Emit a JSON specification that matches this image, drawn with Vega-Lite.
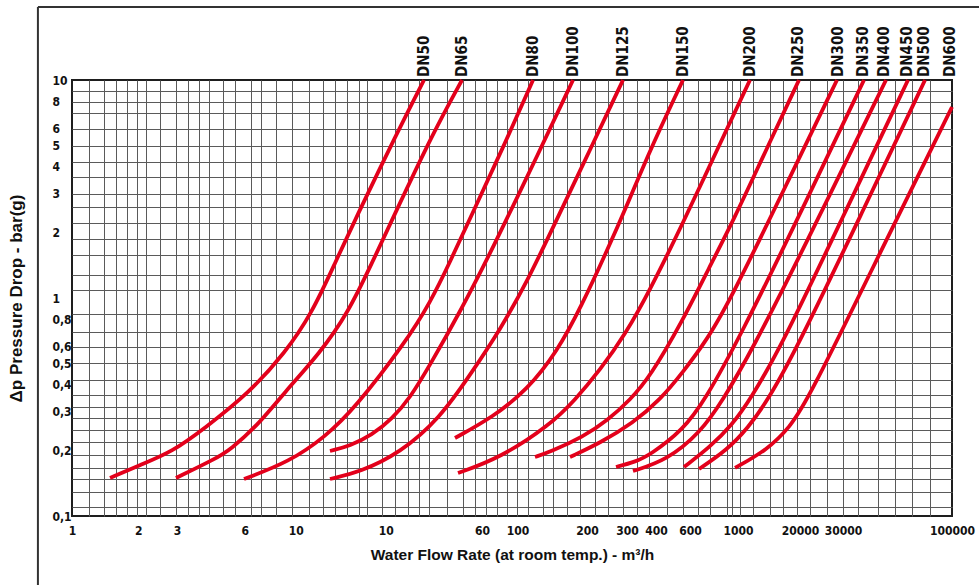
{
  "$schema": "https://vega.github.io/schema/vega-lite/v6.json",
  "width": 880,
  "height": 436,
  "autosize": {"type": "none"},
  "padding": {"left": 72, "top": 80, "right": 27, "bottom": 69},
  "background": "white",
  "config": {
    "view": {"stroke": "#1e1e1e", "strokeWidth": 2},
    "axis": {"labelColor": "#111", "titleColor": "#111"}
  },
  "datasets": {
    "curves": [
      {"dn": "DN50", "q": 1.489, "dp": 0.1494}, {"dn": "DN50", "q": 2.038, "dp": 0.1714}, {"dn": "DN50", "q": 2.848, "dp": 0.1966}, {"dn": "DN50", "q": 4.023, "dp": 0.2534}, {"dn": "DN50", "q": 6.375, "dp": 0.3666}, {"dn": "DN50", "q": 9.294, "dp": 0.5595}, {"dn": "DN50", "q": 12.33, "dp": 0.8537}, {"dn": "DN50", "q": 15.69, "dp": 1.447}, {"dn": "DN50", "q": 19.33, "dp": 2.279}, {"dn": "DN50", "q": 30.01, "dp": 5.713}, {"dn": "DN50", "q": 39.81, "dp": 10},
      {"dn": "DN65", "q": 2.97, "dp": 0.1494}, {"dn": "DN65", "q": 4.467, "dp": 0.1826}, {"dn": "DN65", "q": 5.227, "dp": 0.2008}, {"dn": "DN65", "q": 7.079, "dp": 0.2642}, {"dn": "DN65", "q": 9.196, "dp": 0.3666}, {"dn": "DN65", "q": 13.41, "dp": 0.5595}, {"dn": "DN65", "q": 17.97, "dp": 0.8537}, {"dn": "DN65", "q": 23.1, "dp": 1.447}, {"dn": "DN65", "q": 28.48, "dp": 2.279}, {"dn": "DN65", "q": 43.74, "dp": 5.713}, {"dn": "DN65", "q": 59.27, "dp": 10},
      {"dn": "DN80", "q": 6.051, "dp": 0.1478}, {"dn": "DN80", "q": 9.691, "dp": 0.1769}, {"dn": "DN80", "q": 14.13, "dp": 0.2303}, {"dn": "DN80", "q": 19.33, "dp": 0.3129}, {"dn": "DN80", "q": 32.63, "dp": 0.6218}, {"dn": "DN80", "q": 42.4, "dp": 0.9486}, {"dn": "DN80", "q": 52.26, "dp": 1.463}, {"dn": "DN80", "q": 66.48, "dp": 2.48}, {"dn": "DN80", "q": 90.06, "dp": 4.774}, {"dn": "DN80", "q": 124.6, "dp": 10},
      {"dn": "DN100", "q": 14.88, "dp": 0.1987}, {"dn": "DN100", "q": 18.34, "dp": 0.2095}, {"dn": "DN100", "q": 23.1, "dp": 0.2352}, {"dn": "DN100", "q": 28.48, "dp": 0.2786}, {"dn": "DN100", "q": 34.39, "dp": 0.3477}, {"dn": "DN100", "q": 42.4, "dp": 0.4928}, {"dn": "DN100", "q": 58.03, "dp": 0.8626}, {"dn": "DN100", "q": 81.11, "dp": 1.661}, {"dn": "DN100", "q": 134.1, "dp": 4.774}, {"dn": "DN100", "q": 189.4, "dp": 10},
      {"dn": "DN125", "q": 14.88, "dp": 0.1478}, {"dn": "DN125", "q": 20.38, "dp": 0.1592}, {"dn": "DN125", "q": 30.97, "dp": 0.1945}, {"dn": "DN125", "q": 47.07, "dp": 0.2815}, {"dn": "DN125", "q": 64.44, "dp": 0.4435}, {"dn": "DN125", "q": 88.2, "dp": 0.7133}, {"dn": "DN125", "q": 118.2, "dp": 1.209}, {"dn": "DN125", "q": 156.9, "dp": 2.208}, {"dn": "DN125", "q": 226.2, "dp": 4.774}, {"dn": "DN125", "q": 319.6, "dp": 10},
      {"dn": "DN150", "q": 55.07, "dp": 0.2279}, {"dn": "DN150", "q": 81.97, "dp": 0.2846}, {"dn": "DN150", "q": 117, "dp": 0.3784}, {"dn": "DN150", "q": 160.2, "dp": 0.5653}, {"dn": "DN150", "q": 208, "dp": 0.9288}, {"dn": "DN150", "q": 267.5, "dp": 1.609}, {"dn": "DN150", "q": 336.8, "dp": 2.728}, {"dn": "DN150", "q": 424, "dp": 4.774}, {"dn": "DN150", "q": 598.8, "dp": 10},
      {"dn": "DN200", "q": 56.83, "dp": 0.1575}, {"dn": "DN200", "q": 88.22, "dp": 0.1845}, {"dn": "DN200", "q": 148.9, "dp": 0.2615}, {"dn": "DN200", "q": 193.4, "dp": 0.3405}, {"dn": "DN200", "q": 251.2, "dp": 0.4674}, {"dn": "DN200", "q": 326.3, "dp": 0.6765}, {"dn": "DN200", "q": 424, "dp": 1.088}, {"dn": "DN200", "q": 598.8, "dp": 2.208}, {"dn": "DN200", "q": 854.9, "dp": 4.774}, {"dn": "DN200", "q": 1207, "dp": 10},
      {"dn": "DN250", "q": 127.2, "dp": 0.1865}, {"dn": "DN250", "q": 148.9, "dp": 0.1966}, {"dn": "DN250", "q": 210.2, "dp": 0.2303}, {"dn": "DN250", "q": 273.2, "dp": 0.2756}, {"dn": "DN250", "q": 343.9, "dp": 0.3405}, {"dn": "DN250", "q": 424, "dp": 0.4342}, {"dn": "DN250", "q": 598.8, "dp": 0.7927}, {"dn": "DN250", "q": 778, "dp": 1.344}, {"dn": "DN250", "q": 1032, "dp": 2.352}, {"dn": "DN250", "q": 1341, "dp": 4.163}, {"dn": "DN250", "q": 2016, "dp": 10},
      {"dn": "DN300", "q": 183.5, "dp": 0.1865}, {"dn": "DN300", "q": 251.2, "dp": 0.2162}, {"dn": "DN300", "q": 354.8, "dp": 0.2671}, {"dn": "DN300", "q": 470.7, "dp": 0.3405}, {"dn": "DN300", "q": 598.8, "dp": 0.4576}, {"dn": "DN300", "q": 769.7, "dp": 0.6418}, {"dn": "DN300", "q": 1000, "dp": 1.011}, {"dn": "DN300", "q": 1835, "dp": 3.589}, {"dn": "DN300", "q": 3001, "dp": 10},
      {"dn": "DN350", "q": 297, "dp": 0.1678}, {"dn": "DN350", "q": 362.3, "dp": 0.1769}, {"dn": "DN350", "q": 424, "dp": 0.1905}, {"dn": "DN350", "q": 598.8, "dp": 0.248}, {"dn": "DN350", "q": 753.8, "dp": 0.3405}, {"dn": "DN350", "q": 1087, "dp": 0.6624}, {"dn": "DN350", "q": 2038, "dp": 2.428}, {"dn": "DN350", "q": 3981, "dp": 10},
      {"dn": "DN400", "q": 354.8, "dp": 0.1608}, {"dn": "DN400", "q": 506.5, "dp": 0.1807}, {"dn": "DN400", "q": 715.2, "dp": 0.2403}, {"dn": "DN400", "q": 910.2, "dp": 0.3405}, {"dn": "DN400", "q": 1233, "dp": 0.5774}, {"dn": "DN400", "q": 2080, "dp": 1.626}, {"dn": "DN400", "q": 5012, "dp": 10},
      {"dn": "DN450", "q": 605.1, "dp": 0.1678}, {"dn": "DN450", "q": 794.3, "dp": 0.2072}, {"dn": "DN450", "q": 1000, "dp": 0.2615}, {"dn": "DN450", "q": 1207, "dp": 0.3405}, {"dn": "DN450", "q": 1688, "dp": 0.6087}, {"dn": "DN450", "q": 3096, "dp": 2.208}, {"dn": "DN450", "q": 6310, "dp": 10},
      {"dn": "DN500", "q": 707.9, "dp": 0.1643}, {"dn": "DN500", "q": 949.1, "dp": 0.2008}, {"dn": "DN500", "q": 1182, "dp": 0.2534}, {"dn": "DN500", "q": 1457, "dp": 0.3405}, {"dn": "DN500", "q": 1954, "dp": 0.5774}, {"dn": "DN500", "q": 3817, "dp": 2.352}, {"dn": "DN500", "q": 7540, "dp": 10},
      {"dn": "DN600", "q": 1032, "dp": 0.1661}, {"dn": "DN600", "q": 1443, "dp": 0.2008}, {"dn": "DN600", "q": 1835, "dp": 0.256}, {"dn": "DN600", "q": 2215, "dp": 0.3405}, {"dn": "DN600", "q": 4707, "dp": 1.609}, {"dn": "DN600", "q": 10000, "dp": 7.518}
    ],
    "labels": [
      {"dn": "DN50", "q": 39.8, "dp": 10}, {"dn": "DN65", "q": 59.3, "dp": 10}, {"dn": "DN80", "q": 124.6, "dp": 10}, {"dn": "DN100", "q": 189.4, "dp": 10}, {"dn": "DN125", "q": 319.6, "dp": 10}, {"dn": "DN150", "q": 598.8, "dp": 10}, {"dn": "DN200", "q": 1207, "dp": 10}, {"dn": "DN250", "q": 1995, "dp": 10}, {"dn": "DN300", "q": 3033, "dp": 10}, {"dn": "DN350", "q": 3940, "dp": 10}, {"dn": "DN400", "q": 4909, "dp": 10}, {"dn": "DN450", "q": 6245, "dp": 10}, {"dn": "DN500", "q": 7460, "dp": 10}, {"dn": "DN600", "q": 9793, "dp": 10}
    ]
  },
  "layer": [
    {
      "data": {"name": "curves"},
      "mark": {"type": "line", "color": "#e3001b", "strokeWidth": 3.8, "interpolate": "basis"},
      "encoding": {
        "x": {
          "field": "q", "type": "quantitative",
          "scale": {"type": "log", "domain": [1, 10000], "nice": false},
          "axis": {
            "orient": "bottom", "title": null, "labels": false, "ticks": false, "domain": false,
            "grid": true, "gridColor": "#5a5a5a", "gridWidth": 1, "gridOpacity": 1,
            "values": [1.195, 1.398, 1.585, 1.778, 1.975, 2.17, 2.512, 2.97, 3.37, 3.78, 4.195, 4.86, 5.51, 6.51, 7.23, 8.46, 10, 11.9, 13.9, 15.7, 17.8, 20.1, 22, 25.6, 29.4, 33.6, 37.9, 42.1, 50.5, 60.1, 67.9, 76.2, 85.2, 94.6, 105, 118.6, 138.8, 154, 177, 203.8, 238.4, 274, 320.6, 368.8, 420.9, 505, 600.5, 702.8, 794, 946, 997, 1087, 1250, 1488, 1711, 1968, 2262, 2695, 3206, 3751, 4624, 5507, 6558, 7943]
          }
        },
        "y": {
          "field": "dp", "type": "quantitative",
          "scale": {"type": "log", "domain": [0.1, 10], "nice": false},
          "axis": {
            "orient": "left", "title": null, "labels": false, "ticks": false, "domain": false,
            "grid": true, "gridColor": "#5a5a5a", "gridWidth": 1, "gridOpacity": 1,
            "values": [0.1104, 0.1293, 0.1475, 0.1664, 0.1899, 0.2174, 0.248, 0.2807, 0.3172, 0.3606, 0.4224, 0.502, 0.596, 0.698, 0.843, 1.088, 1.281, 1.582, 1.869, 2.202, 2.602, 3.01, 3.6, 4.22, 4.99, 5.96, 7.03, 7.95, 8.93]
          }
        },
        "detail": {"field": "dn"}
      }
    },
    {
      "data": {"name": "labels"},
      "mark": {"type": "text", "angle": 270, "align": "left", "baseline": "middle", "dx": 3, "font": "DejaVu Sans Condensed, DejaVu Sans, sans-serif", "fontWeight": "bold", "fontSize": 15, "color": "#111"},
      "encoding": {
        "x": {
          "field": "q", "type": "quantitative",
          "scale": {"type": "log", "domain": [1, 10000], "nice": false},
          "axis": {
            "orient": "bottom", "grid": false, "ticks": false, "domain": false,
            "values": [1, 2, 3, 6.1, 10.4, 26.7, 73, 106, 219, 333, 451, 645, 1065, 2037, 3199, 10000],
            "labelExpr": "datum.value < 1.5 ? '1' : datum.value < 2.5 ? '2' : datum.value < 4.5 ? '3' : datum.value < 8 ? '6' : datum.value < 50 ? '10' : datum.value < 90 ? '60' : datum.value < 150 ? '100' : datum.value < 270 ? '200' : datum.value < 390 ? '300' : datum.value < 540 ? '400' : datum.value < 850 ? '600' : datum.value < 1500 ? '1000' : datum.value < 2600 ? '20000' : datum.value < 6000 ? '30000' : '100000'",
            "labelFont": "DejaVu Sans Condensed, DejaVu Sans, sans-serif", "labelFontWeight": "bold", "labelFontSize": 12,
            "labelPadding": 9, "labelFlush": false, "labelOverlap": false,
            "title": "Water Flow Rate (at room temp.) - m³/h",
            "titleFont": "Liberation Sans, sans-serif", "titleFontWeight": "bold", "titleFontSize": 15.5, "titlePadding": 11
          }
        },
        "y": {
          "field": "dp", "type": "quantitative",
          "scale": {"type": "log", "domain": [0.1, 10], "nice": false},
          "axis": {
            "orient": "left", "grid": false, "ticks": false, "domain": false,
            "values": [0.1, 0.2, 0.3, 0.4, 0.5, 0.6, 0.8, 1, 2, 3, 4, 5, 6, 8, 10],
            "labelExpr": "replace(toString(datum.value), '.', ',')",
            "labelFont": "DejaVu Sans Condensed, DejaVu Sans, sans-serif", "labelFontWeight": "bold", "labelFontSize": 12,
            "labelAlign": "left", "labelPadding": 20, "labelOverlap": false, "labelFlush": false,
            "title": "Δp Pressure Drop - bar(g)",
            "titleFont": "Liberation Sans, sans-serif", "titleFontWeight": "bold", "titleFontSize": 17, "titlePadding": 27
          }
        },
        "text": {"field": "dn"}
      }
    },
    {
      "data": {"values": [{}]},
      "mark": {"type": "rule", "color": "#333", "strokeWidth": 2},
      "encoding": {
        "x": {"datum": 0.7, "type": "quantitative", "scale": {"type": "log", "domain": [1, 10000], "nice": false}, "axis": null},
        "y": {"datum": 21.6, "type": "quantitative", "scale": {"type": "log", "domain": [0.1, 10], "nice": false}, "axis": null},
        "y2": {"datum": 0.04}
      }
    },
    {
      "data": {"values": [{}]},
      "mark": {"type": "rule", "color": "#333", "strokeWidth": 2},
      "encoding": {
        "x": {"datum": 0.7, "type": "quantitative", "scale": {"type": "log", "domain": [1, 10000], "nice": false}, "axis": null},
        "x2": {"datum": 14000},
        "y": {"datum": 21.6, "type": "quantitative", "scale": {"type": "log", "domain": [0.1, 10], "nice": false}, "axis": null}
      }
    }
  ],
  "resolve": {"axis": {"x": "independent", "y": "independent"}}
}
